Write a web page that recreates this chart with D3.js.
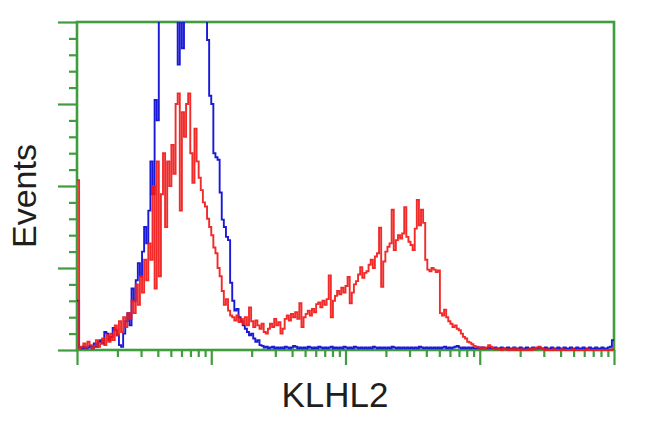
<!DOCTYPE html>
<html>
<head>
<meta charset="utf-8">
<script src="https://cdn.jsdelivr.net/npm/d3@7"></script>
<style>
html,body{margin:0;padding:0;background:#fff;}
svg{display:block;}
</style>
</head>
<body>
<svg id="chart" width="650" height="432"></svg>
<script>
// ---- data (histogram counts per channel, 256 channels on a 4-decade log axis) ----
const xLabel = "KLHL2";
const yLabel = "Events";
const xDecades = [1, 10, 100, 1000, 10000];
const yMajorTicks = [0, 100, 200, 300, 400];

const redCounts = [
  207,
  2, 4, 8, 3, 10, 6, 2, 5, 12, 4,
  8, 14, 6, 18, 10, 20, 12,
  30, 18, 35, 22, 40, 28, 45,
  38, 60, 45, 80, 55, 90,
  70, 110, 85, 130,
  110, 200, 75, 230, 90,
  190, 240, 150, 230, 200,
  250, 215, 300, 313, 170,
  290, 260, 300, 313, 240,
  204, 270, 230, 210,
  195, 180, 175, 160, 150,
  140, 125, 118, 100, 90,
  72, 55, 62, 48, 42,
  40, 36, 42, 34, 38,
  32, 40, 30, 52, 35,
  28, 36, 30, 26, 32,
  22, 20, 26, 32, 28,
  38, 30, 34, 20, 26,
  38, 42, 36, 44, 40,
  46, 38, 57, 28, 40,
  44, 48, 42, 50, 46,
  56, 58, 52, 60, 55,
  62, 91, 40, 60, 66,
  72, 68, 76, 70, 78,
  89, 57, 70, 80, 84,
  92, 101, 88, 94, 96,
  104, 110, 100, 114, 118,
  149, 77, 108, 120, 126,
  130, 171, 122, 134, 140,
  136, 142, 174, 138, 132,
  128, 122, 148, 183, 152,
  171, 155,
  110, 98, 96, 100, 98, 95, 97,
  45, 42, 49, 40,
  35, 32, 28, 30, 26, 24,
  20, 16, 14, 10, 9, 7,
  5, 4, 3, 2, 3, 2, 3,
  6, 4, 2, 1, 2,
  1,0,2,1,0,1,0,2,0,1, 0,1,0,0,1,0,2,1,3,4, 2,1,0,1,0,0,1,0,0,0,
  1,0,0,0,0,1,0,0,0,0, 0,0,1,0,0,0,0,0,0,0, 0,0,0,0,1
];

const blueCounts = [
  60,
  3, 2, 4, 2, 3, 5, 2, 8, 4, 10,
  12, 8, 22, 20, 12, 16, 27, 24, 18, 6,
  4, 20, 35, 45, 30, 75, 60, 85, 106, 90,
  120, 150, 130, 170, 230, 190, 305, 280, 420,
  450, 430, 480, 460, 500, 470, 440, 410, 348, 430, 368, 420, 450, 480, 460, 500, 470, 450, 480, 440, 420,
  410, 378, 310, 300, 240, 235, 232, 192, 159, 150,
  138, 134, 82, 60, 48, 50, 40, 35, 30, 26,
  22, 18, 20, 14, 10, 12, 6,
  5,3,4,2,3,4,2,3,2,3,
  2,4,3,2,3,5,4,2,3,2,
  3,2,4,3,2,3,2,4,3,2,
  3,2,3,4,2,3,2,3,2,4,
  3,2,3,2,4,3,2,3,2,3,
  2,3,2,4,3,2,3,2,3,2,
  3,2,4,3,2,3,2,3,2,3,
  2,3,2,3,2,4,3,2,3,2,
  3,2,3,2,3,2,3,4,2,3,
  2,3,4,5,3,2,3,2,3,2,
  3,2,2,3,2,3,2,2,3,2,
  2,3,2,2,3,2,2,3,2,2,
  3,2,2,3,2,2,3,2,2,3,
  2,2,3,2,2,3,2,2,3,2,
  2,3,2,2,3,2,2,3,2,2,
  3,2,2,3,2,2,3,2,2,3,
  2,2,3,2,2,3,4,12
];

// ---- layout ----
const L = 77, R = 614, T = 22, B = 350;
const green = "#3f9d3f";

const svg = d3.select("#chart");

const xBin = d3.scaleLinear().domain([0, redCounts.length]).range([L, R]);
const xLog = d3.scaleLog().domain([xDecades[0], xDecades[xDecades.length - 1]]).range([L, R]);
const y = d3.scaleLinear().domain([0, 400]).range([B, T]);

svg.append("defs").append("clipPath").attr("id", "plotclip")
  .append("rect").attr("x", L - 2).attr("y", T).attr("width", R - L + 4).attr("height", B - T + 2);

// ---- axes ----
const yMinor = [];
for (let i = 0; i < yMajorTicks.length - 1; i++) {
  for (let k = 1; k < 5; k++) yMinor.push(yMajorTicks[i] + k * 20);
}
const gy = svg.append("g").attr("transform", `translate(${L},0)`);
gy.call(d3.axisLeft(y).tickValues(yMajorTicks).tickSize(19).tickFormat(""));
gy.append("g").call(d3.axisLeft(y).tickValues(yMinor).tickSize(8).tickFormat(""));

const xMinor = [];
for (let i = 0; i < xDecades.length - 1; i++) {
  for (let k = 2; k < 10; k++) xMinor.push(xDecades[i] * k);
}
const gx = svg.append("g").attr("transform", `translate(0,${B})`);
gx.call(d3.axisBottom(xLog).tickValues(xDecades).tickSize(15).tickFormat(""));
gx.append("g").call(d3.axisBottom(xLog).tickValues(xMinor).tickSize(7).tickFormat(""));

svg.selectAll(".domain").remove();
svg.selectAll(".tick line").attr("stroke", green).attr("stroke-width", 2.2);

// frame
svg.append("rect").attr("x", L).attr("y", T).attr("width", R - L).attr("height", B - T)
  .attr("fill", "none").attr("stroke", green).attr("stroke-width", 2.6);

// ---- histograms (drawn over the frame) ----
const stepLine = d3.line()
  .x(d => xBin(d[0]))
  .y(d => y(d[1]))
  .curve(d3.curveStepAfter);

function pts(arr) {
  const p = arr.map((v, i) => [i, v]);
  p.push([arr.length, arr[arr.length - 1]]);
  return p;
}

const plot = svg.append("g").attr("clip-path", "url(#plotclip)");
plot.append("path").datum(pts(blueCounts))
  .attr("d", stepLine).attr("fill", "none")
  .attr("stroke", "#1a1ad6").attr("stroke-width", 1.9);
plot.append("path").datum(pts(redCounts))
  .attr("d", stepLine).attr("fill", "none")
  .attr("stroke", "#f01818").attr("stroke-width", 1.9).attr("stroke-opacity", 0.92);

// ---- labels ----
svg.append("text").attr("x", 335).attr("y", 407)
  .attr("text-anchor", "middle")
  .attr("font-family", "Liberation Sans, Arial, sans-serif")
  .attr("font-size", 35).attr("fill", "#1e1e1e").text(xLabel);

svg.append("text")
  .attr("transform", "translate(36,196) rotate(-90)")
  .attr("text-anchor", "middle")
  .attr("font-family", "Liberation Sans, Arial, sans-serif")
  .attr("font-size", 34).attr("fill", "#1e1e1e").text(yLabel);
</script>
</body>
</html>
